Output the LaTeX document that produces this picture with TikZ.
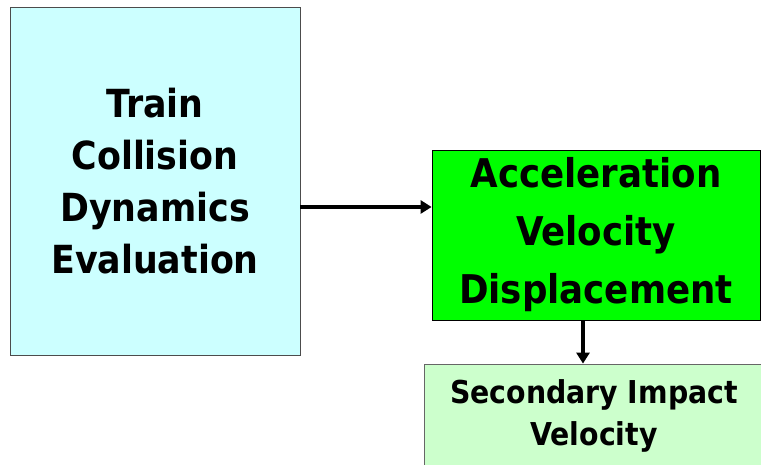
\documentclass[tikz,border=0pt]{standalone}
\usepackage{fontspec}
\setmainfont{DejaVu Sans Condensed}[BoldFont={DejaVu Sans Condensed Bold}]
\usetikzlibrary{arrows.meta}
\definecolor{lcyan}{HTML}{CCFFFF}
\definecolor{lgreen}{HTML}{00FF00}
\definecolor{pgreen}{HTML}{CCFFCC}
\tikzset{
  box/.style={draw, line width=0.8pt, inner sep=0pt, align=center, font=\bfseries},
  conn/.style={line width=3.6pt, -{Triangle[length=11pt,width=13pt]}}
}
\begin{document}
\begin{tikzpicture}[x=1pt,y=1pt]
\useasboundingbox (0,0) rectangle (761,465);
\node[box, fill=lcyan, draw=black!70, minimum width=290pt, minimum height=348pt,
  font=\bfseries\fontsize{38.7}{52}\selectfont] (tcd) at (155,284)
  {Train\\Collision\\Dynamics\\Evaluation};
\node[box, fill=lgreen, draw=black, minimum width=328pt, minimum height=170pt,
  font=\bfseries\fontsize{39.6}{58}\selectfont] (avd) at (596,230)
  {Acceleration\\Velocity\\Displacement};
\node[box, fill=pgreen, draw=black!60, minimum width=340pt, minimum height=104pt,
  font=\bfseries\fontsize{31.5}{42}\selectfont] (siv) at (594,49)
  {Secondary Impact\\Velocity};
\draw[conn] (tcd.east |- 0,258) -- (avd.west |- 0,258);
\draw[conn] (avd.south -| 583,0) -- (siv.north -| 583,0);
\end{tikzpicture}
\end{document}
